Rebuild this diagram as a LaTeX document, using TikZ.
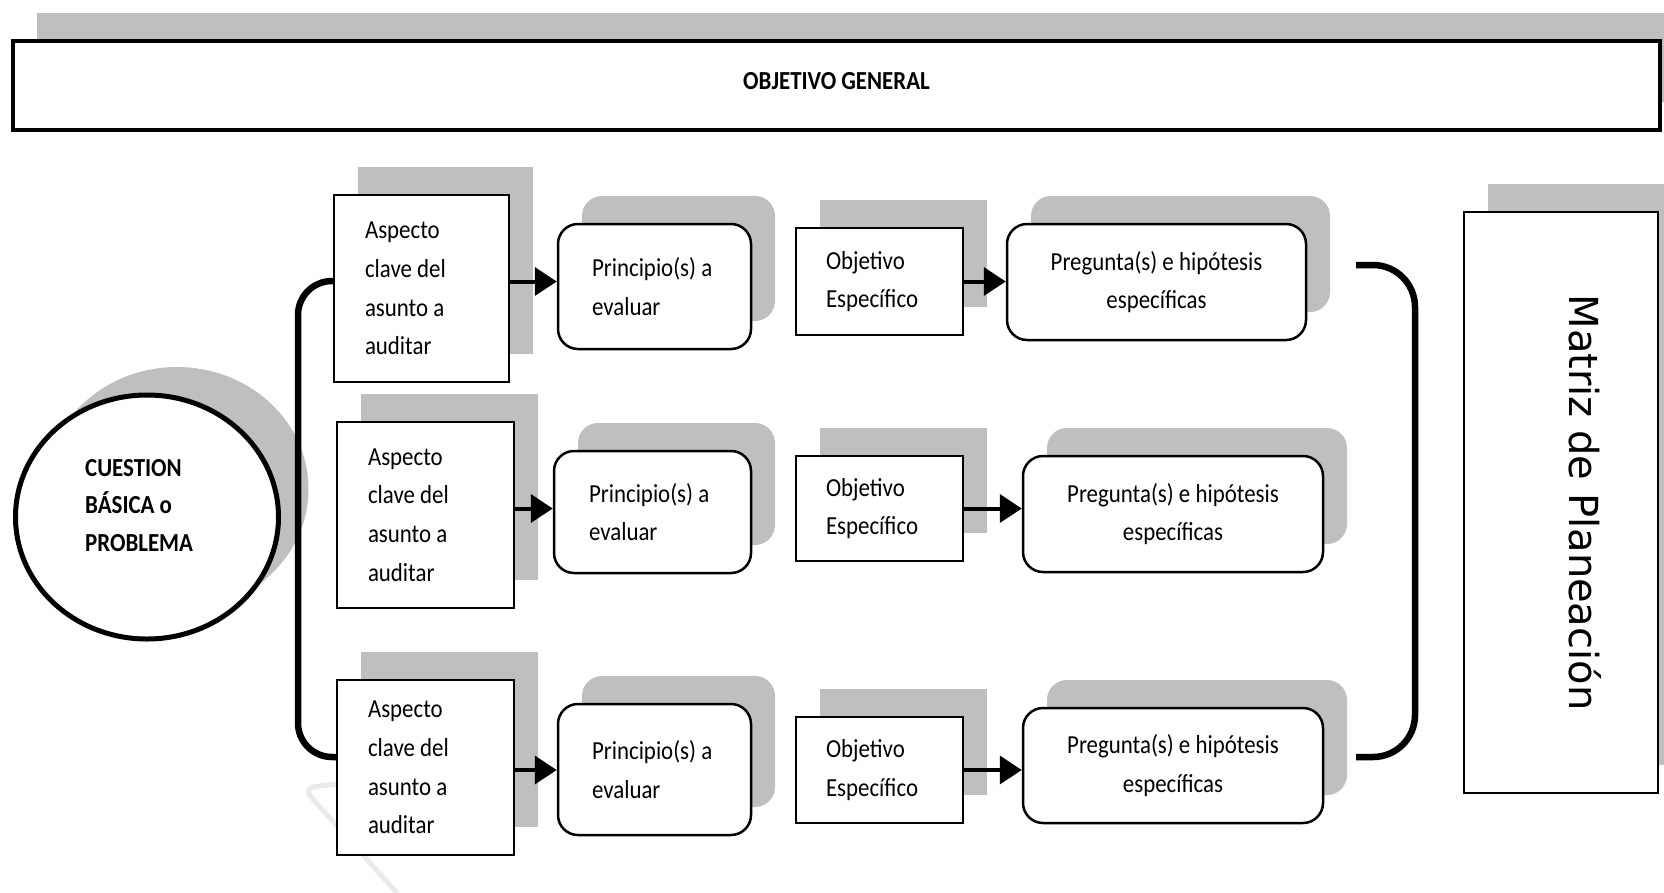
\documentclass[tikz,border=0pt]{standalone}
\usepackage{fontspec}
\setmainfont{Carlito}[FakeStretch=0.88]
\newfontfamily\matrizfont{DejaVu Sans}
\usetikzlibrary{arrows.meta,shadows,shapes.geometric}
\definecolor{shgray}{RGB}{191,191,191}
\definecolor{faintgray}{RGB}{234,234,234}
\tikzset{
	boxshadow/.style={copy shadow={shadow xshift=24pt,shadow yshift=28pt,fill=shgray,draw=none}},
	txt/.style={font=\fontsize{26pt}{38.6pt}\selectfont},
	squarebox/.style={draw,fill=white,line width=2.5pt,boxshadow,txt,align=flush left},
	roundbox/.style={squarebox,rounded corners=20pt},
	flow/.style={line width=4pt,-{Triangle[length=22pt,width=28pt]}},
	brace/.style={line width=6.5pt,rounded corners=#1},
	brace/.default=34pt
}

\begin{document}
\begin{tikzpicture}[x=1pt,y=-1pt]
	\useasboundingbox (0,0) rectangle (1664,892);

	% faint mark behind the last row
	\draw[faintgray,line width=5pt,rounded corners=12pt] (337,784) -- (303,788) -- (397,893);

	% Objetivo general
	\node[squarebox,line width=4.5pt,minimum width=1647pt,minimum height=89pt,
		align=flush center,text depth=10pt,font=\bfseries\fontsize{26pt}{30pt}\selectfont] (objgen) at (836.5,85.5) {OBJETIVO GENERAL};

	% Cuestion basica
	\node[ellipse,draw,line width=5pt,fill=white,minimum width=263pt,minimum height=244pt,
		copy shadow={shadow xshift=30pt,shadow yshift=28pt,fill=shgray,draw=none}] (cue) at (147,517) {};
	\node[anchor=west,align=flush left,inner sep=0pt,font=\bfseries\fontsize{26pt}{37.5pt}\selectfont] (cuetxt) at (85,505.5) {CUESTION\\BÁSICA o\\PROBLEMA};

	% Row 1
	\node[squarebox,text width=113pt,inner xsep=31pt,minimum height=187pt] (asp1) at (421.5,288.5) {Aspecto\\clave del\\asunto a\\auditar};
	\node[roundbox,text width=125pt,inner xsep=34pt,minimum height=125pt] (pri1) at (654.5,286.5) {Principio(s) a\\evaluar};
	\node[squarebox,text width=107pt,inner xsep=30pt,minimum height=107pt] (obj1) at (879.5,281.5) {Objetivo\\Específico};
	\node[roundbox,align=flush center,text width=259pt,inner xsep=20pt,minimum height=116pt] (pre1) at (1156.5,282) {Pregunta(s) e hipótesis\\específicas};

	% Row 2
	\node[squarebox,text width=115pt,inner xsep=31pt,minimum height=186pt] (asp2) at (425.5,515) {Aspecto\\clave del\\asunto a\\auditar};
	\node[roundbox,text width=127pt,inner xsep=35pt,minimum height=122pt] (pri2) at (652.5,512) {Principio(s) a\\evaluar};
	\node[squarebox,text width=107pt,inner xsep=30pt,minimum height=105pt] (obj2) at (879.5,508.5) {Objetivo\\Específico};
	\node[roundbox,align=flush center,text width=260pt,inner xsep=20pt,minimum height=116pt] (pre2) at (1173,514) {Pregunta(s) e hipótesis\\específicas};

	% Row 3
	\node[squarebox,text width=115pt,inner xsep=31pt,minimum height=175pt] (asp3) at (425.5,767.5) {Aspecto\\clave del\\asunto a\\auditar};
	\node[roundbox,text width=125pt,inner xsep=34pt,minimum height=131pt] (pri3) at (654.5,769.5) {Principio(s) a\\evaluar};
	\node[squarebox,text width=107pt,inner xsep=30pt,minimum height=106pt] (obj3) at (879.5,770) {Objetivo\\Específico};
	\node[roundbox,align=flush center,text width=260pt,inner xsep=20pt,minimum height=115pt] (pre3) at (1173,765.5) {Pregunta(s) e hipótesis\\específicas};

	% Matriz de planeacion
	\node[squarebox,minimum width=194pt,minimum height=581pt] (mat) at (1561,502.5) {};
	\node[rotate=-90,font=\matrizfont\fontsize{40pt}{48pt}\selectfont] (mattxt) at (1585,502.5) {Matriz de Planeación};

	% Arrows
	\draw[flow] (asp1.east |- obj1.west) -- (pri1.west |- obj1.west);
	\draw[flow] (obj1.east) -- (pre1.west |- obj1.east);
	\draw[flow] (asp2.east |- obj2.west) -- (pri2.west |- obj2.west);
	\draw[flow] (obj2.east) -- (pre2.west |- obj2.east);
	\draw[flow] (asp3.east |- obj3.west) -- (pri3.west |- obj3.west);
	\draw[flow] (obj3.east) -- (pre3.west |- obj3.east);

	% Brackets
	\coordinate (lbar) at (298,520);
	\draw[brace=34pt] ([yshift=7.5pt]asp1.west) -| (lbar) |- ([yshift=10.5pt]asp3.west);
	\coordinate (rtop) at (1356,265);
	\coordinate (rbar) at (1415,510);
	\coordinate (rbot) at (1356,757);
	\draw[brace=42pt] (rtop) -| (rbar) |- (rbot);
\end{tikzpicture}
\end{document}
